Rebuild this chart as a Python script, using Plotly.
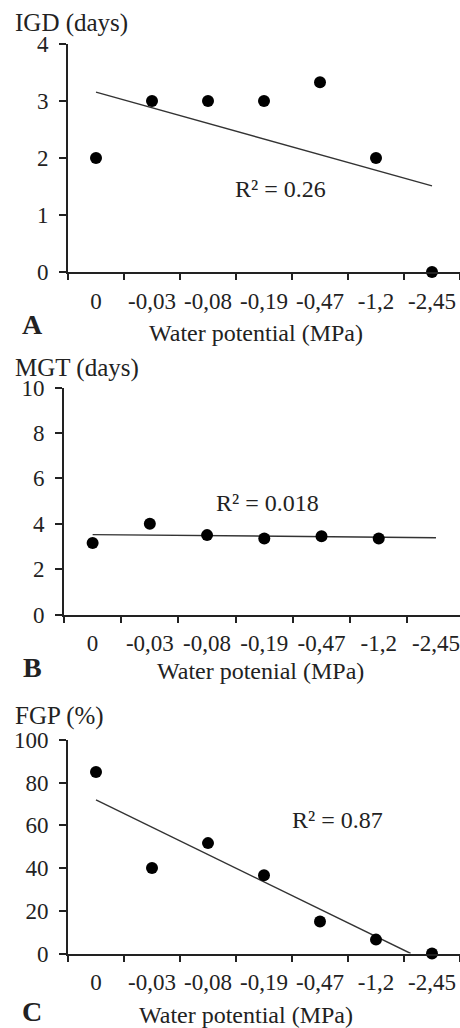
import numpy as np
import plotly.graph_objects as go

# ---- data ----
categories = ["0", "-0,03", "-0,08", "-0,19", "-0,47", "-1,2", "-2,45"]
igd_days = [2, 3, 3, 3, 3.33, 2, 0]
mgt_days = [3.15, 4.0, 3.5, 3.35, 3.45, 3.35, None]
fgp_pct = [85, 40, 51.7, 36.7, 15, 6.5, 0]
r2_labels = ["R² = 0.26", "R² = 0.018", "R² = 0.87"]
y_titles = ["IGD (days)", "MGT (days)", "FGP (%)"]
x_titles = ["Water potential (MPa)", "Water potenial (MPa)", "Water potential (MPa)"]
panel_letters = ["A", "B", "C"]

FONT = "Liberation Serif, Times New Roman, serif"
TXT = "#222222"
W, H = 460, 1028

pos = list(range(len(categories)))

def fit(values):
    xs = [p for p, v in zip(pos, values) if v is not None]
    ys = [v for v in values if v is not None]
    a, b = np.polyfit(xs, ys, 1)
    return a, b

fig = go.Figure()

panels = [
    dict(vals=igd_days, yrange=[0, 4], dtick=1, xdom=[68 / W, 1.0], xr=[-0.5, 6.5],
         ydom=[1 - 272 / H, 1 - 44 / H], end="full"),
    dict(vals=mgt_days, yrange=[0, 10], dtick=2, xdom=[64 / W, 1.0], xr=[-0.5, 6.42],
         ydom=[1 - 614.5 / H, 1 - 387.7 / H], end="full"),
    dict(vals=fgp_pct, yrange=[0, 100], dtick=20, xdom=[68 / W, 1.0], xr=[-0.5, 6.5],
         ydom=[1 - 953.5 / H, 1 - 740 / H], end="root"),
]

# text positions (pixels from top-left)
r2_xy = [(280, 189), (267, 503), (337, 820)]
ytitle_xy = [(13, 23), (13, 368), (13, 716)]
letter_xy = [(32, 324), (32, 667), (32, 1011)]
xtitle_xy = [(256, 333), (260, 671), (246, 1015)]

for i, p in enumerate(panels):
    n = "" if i == 0 else str(i + 1)
    xa, ya = "x" + n, "y" + n
    a, b = fit(p["vals"])
    x0 = 0
    x1 = 6
    if p["end"] == "root":
        x1 = min(6, -b / a)
    tx = [x0, x1]
    ty = [a * x0 + b, a * x1 + b]
    fig.add_trace(go.Scatter(x=tx, y=ty, mode="lines", xaxis=xa, yaxis=ya,
                             line=dict(color="#333333", width=1.4),
                             showlegend=False, cliponaxis=False, hoverinfo="skip"))
    fig.add_trace(go.Scatter(x=pos, y=p["vals"], mode="markers", xaxis=xa, yaxis=ya,
                             marker=dict(color="black", size=12),
                             showlegend=False, cliponaxis=False))

    fig.layout["xaxis" + n] = dict(
        domain=p["xdom"], range=p["xr"], anchor=ya, automargin=False,
        tickvals=pos, ticktext=categories, ticks="", tickangle=0,
        showline=True, linecolor="#222", linewidth=2, showgrid=False, zeroline=False,
        tickfont=dict(family=FONT, size=23, color=TXT), ticklabelstandoff=7,
        minor=dict(tickvals=[k - 0.5 for k in pos] + [6.5], ticks="outside",
                   ticklen=6, tickwidth=2, tickcolor="#222", showgrid=False),
    )
    fig.layout["yaxis" + n] = dict(
        domain=p["ydom"], range=p["yrange"], anchor=xa, dtick=p["dtick"], automargin=False,
        ticks="outside", ticklen=7, tickwidth=2, tickcolor="#222",
        showline=True, linecolor="#222", linewidth=2, showgrid=False, zeroline=False,
        tickfont=dict(family=FONT, size=23, color=TXT), ticklabelstandoff=6,
    )

annots = []
for i in range(3):
    annots.append(dict(text=r2_labels[i], x=r2_xy[i][0] / W, y=1 - r2_xy[i][1] / H,
                       xref="paper", yref="paper", xanchor="center", yanchor="middle",
                       showarrow=False, font=dict(family=FONT, size=24, color=TXT)))
    annots.append(dict(text=y_titles[i], x=ytitle_xy[i][0] / W, y=1 - ytitle_xy[i][1] / H,
                       xref="paper", yref="paper", xanchor="left", yanchor="middle",
                       showarrow=False, font=dict(family=FONT, size=25, color=TXT)))
    annots.append(dict(text="<b>" + panel_letters[i] + "</b>", x=letter_xy[i][0] / W,
                       y=1 - letter_xy[i][1] / H, xref="paper", yref="paper",
                       xanchor="center", yanchor="middle", showarrow=False,
                       font=dict(family=FONT, size=28, color=TXT)))
    annots.append(dict(text=x_titles[i], x=xtitle_xy[i][0] / W, y=1 - xtitle_xy[i][1] / H,
                       xref="paper", yref="paper", xanchor="center", yanchor="middle",
                       showarrow=False, font=dict(family=FONT, size=24, color=TXT)))

fig.update_layout(width=W, height=H, margin=dict(l=0, r=0, t=0, b=0, autoexpand=False),
                  paper_bgcolor="white", plot_bgcolor="white",
                  annotations=annots, showlegend=False)

fig.write_html("out.html")
